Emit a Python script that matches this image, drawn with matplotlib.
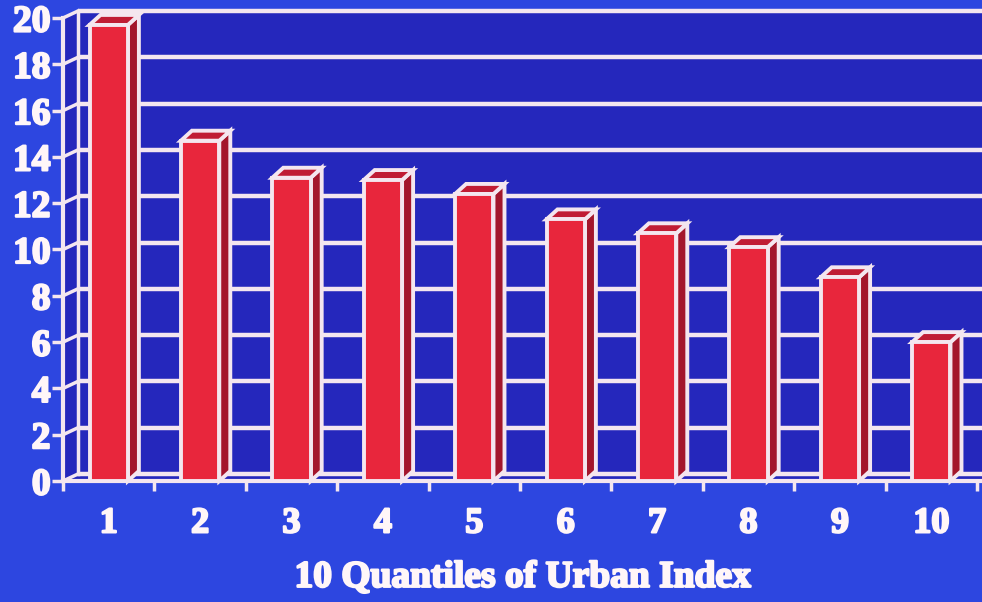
import matplotlib.pyplot as plt
import matplotlib.patheffects as pe
from matplotlib.patches import Polygon

quantiles = ['1', '2', '3', '4', '5', '6', '7', '8', '9', '10']
values = [19.7, 14.7, 13.1, 13.0, 12.4, 11.3, 10.7, 10.1, 8.8, 6.0]
y_ticks = [0, 2, 4, 6, 8, 10, 12, 14, 16, 18, 20]

OUTER = '#2d46e0'
WALL = '#2527bc'
LINE = '#f4e6ef'
RED = '#e8263c'
RED_SIDE = '#a3162c'
RED_TOP = '#c01c34'

W, H = 982, 602
fig = plt.figure(figsize=(W / 100, H / 100), dpi=100)
fig.patch.set_facecolor(OUTER)

# front axis: x=0.5 at px 63, y=0 at px 481, y=20 at px 18
ax = fig.add_axes([63 / W, (H - 481) / H, (W - 63) / W, (481 - 18) / H])
px_x = 91.4
xmax = 0.5 + (W - 63) / px_x
px_y = (481 - 18) / 20
ax.set_xlim(0.5, xmax)
ax.set_ylim(0, 20)
ax.patch.set_visible(False)
for s in ax.spines.values():
    s.set_visible(False)

# depth offsets (data units)
wdx, wdy = 15 / px_x, 7 / px_y
bdx, bdy = 11 / px_x, 10 / px_y
x0 = 0.5

# walls
ax.add_patch(Polygon([(x0 + wdx, wdy), (xmax, wdy), (xmax, 20 + wdy), (x0 + wdx, 20 + wdy)],
                     closed=True, facecolor=WALL, edgecolor='none', zorder=1, clip_on=False))
ax.add_patch(Polygon([(x0, 0), (x0 + wdx, wdy), (x0 + wdx, 20 + wdy), (x0, 20)],
                     closed=True, facecolor=WALL, edgecolor='none', zorder=1, clip_on=False))
ax.add_patch(Polygon([(x0, 0), (xmax, 0), (xmax, wdy), (x0 + wdx, wdy)],
                     closed=True, facecolor=WALL, edgecolor='none', zorder=1, clip_on=False))

# grid
for t in y_ticks:
    ax.plot([x0 + wdx, xmax], [t + wdy, t + wdy], color=LINE, lw=3.2, zorder=2,
            clip_on=False, solid_capstyle='butt')
    ax.plot([x0, x0 + wdx], [t, t + wdy], color=LINE, lw=2.5, zorder=2, clip_on=False)
ax.plot([x0, x0], [0, 20], color=LINE, lw=3, zorder=3, clip_on=False)
ax.plot([x0 + wdx, x0 + wdx], [wdy, 20 + wdy], color=LINE, lw=2.5, zorder=2, clip_on=False)
ax.plot([x0, xmax], [0, 0], color=LINE, lw=3, zorder=3, clip_on=False)

# bars
xs = list(range(1, len(values) + 1))
bw = 0.42
ax.bar(xs, values, width=bw, color=RED, edgecolor=LINE, linewidth=2.8, zorder=6)
for x, v in zip(xs, values):
    r = x + bw / 2
    l = x - bw / 2
    ax.add_patch(Polygon([(r, 0), (r + bdx, bdy), (r + bdx, v + bdy), (r, v)], closed=True,
                         facecolor=RED_SIDE, edgecolor=LINE, lw=2.8, zorder=5, clip_on=False))
    ax.add_patch(Polygon([(l, v), (r, v), (r + bdx, v + bdy), (l + bdx, v + bdy)], closed=True,
                         facecolor=RED_TOP, edgecolor=LINE, lw=2.8, zorder=5, clip_on=False))

TXT = '#fff6f8'
font = dict(family='Liberation Serif', weight='bold', color=TXT)
heavy = [pe.withStroke(linewidth=1.6, foreground=TXT)]

ax.set_yticks(y_ticks)
ax.set_yticklabels([str(t) for t in y_ticks], fontdict=font, fontsize=27)
ax.tick_params(axis='y', direction='out', length=8, width=2.5, color=LINE, pad=1)

ax.set_xticks(xs)
ax.set_xticklabels(quantiles, fontdict=font, fontsize=26)
ax.set_xticks([k + 0.5 for k in range(0, 11)], minor=True)
ax.tick_params(axis='x', which='major', length=0, pad=19)
ax.tick_params(axis='x', which='minor', direction='out', length=7, width=2.5, color=LINE)

ax.set_xlabel('10 Quantiles of Urban Index', fontdict=font, fontsize=27, labelpad=14)

for lab in ax.get_xticklabels() + ax.get_yticklabels() + [ax.xaxis.label]:
    lab.set_path_effects(heavy)

fig.savefig('out.png', dpi=100, facecolor=OUTER)
